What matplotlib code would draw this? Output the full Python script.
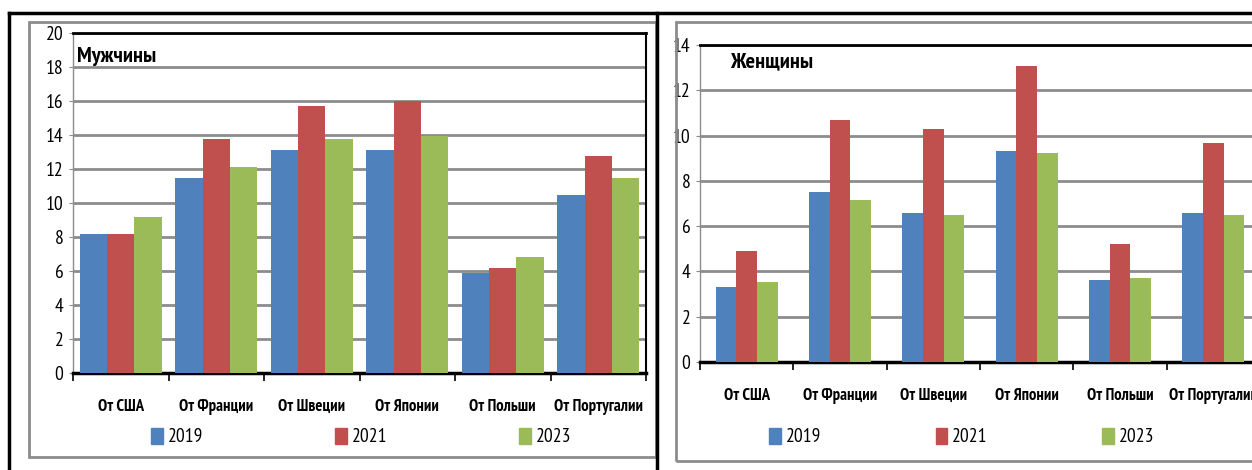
import matplotlib
matplotlib.use('Agg')
import numpy as np
import matplotlib.pyplot as plt
from matplotlib.lines import Line2D
from matplotlib.patches import Rectangle, Patch

plt.rcParams['font.family'] = ['PT Sans Narrow', 'DejaVu Sans']

categories = ['От США', 'От Франции', 'От Швеции', 'От Японии', 'От Польши', 'От Португалии']
years = ['2019', '2021', '2023']
colors = ['#4F81BD', '#C0504D', '#9BBB59']

men_2019 = [8.2, 11.5, 13.1, 13.1, 5.87, 10.5]
men_2021 = [8.15, 13.75, 15.7, 16.0, 6.2, 12.75]
men_2023 = [9.2, 12.1, 13.75, 13.95, 6.85, 11.5]

women_2019 = [3.32, 7.5, 6.57, 9.32, 3.61, 6.56]
women_2021 = [4.89, 10.67, 10.3, 13.07, 5.2, 9.68]
women_2023 = [3.52, 7.17, 6.48, 9.23, 3.7, 6.48]

W, H = 1252, 470
fig = plt.figure(figsize=(W / 100, H / 100), dpi=100)


def fx(px):
    return px / W


def fy(py):
    return 1 - py / H


# frames
tf = fig.transFigure
fig.add_artist(Rectangle((fx(29), fy(457)), fx(656 - 29), fy(22) - fy(457),
                         transform=tf, fill=False, ec='#8c8c8c', lw=2))
fig.add_artist(Rectangle((fx(676), fy(461)), fx(700), fy(22) - fy(461),
                         transform=tf, fill=False, ec='#8c8c8c', lw=2))
fig.add_artist(Line2D([fx(9), 1], [fy(13), fy(13)], transform=tf, color='black', lw=2.5))
fig.add_artist(Line2D([fx(9), fx(9)], [0, fy(13)], transform=tf, color='black', lw=2.5))
fig.add_artist(Line2D([fx(657), fx(657)], [0, fy(13)], transform=tf, color='black', lw=2.5))


def panel(rect, s1, s2, s3, ymax, title, title_xy, barw, leg_xy, colsp):
    ax = fig.add_axes(rect)
    x = np.arange(len(categories))
    for i, (vals, c, yr) in enumerate(zip([s1, s2, s3], colors, years)):
        ax.bar(x + (i - 1) * barw, vals, width=barw, color=c, label=yr, zorder=3)
    ax.set_xlim(-0.5, len(categories) - 0.5)
    ax.set_ylim(0, ymax)
    ax.set_yticks(np.arange(0, ymax + 1, 2))
    ax.yaxis.grid(True, color='#8c8c8c', lw=2, zorder=0)
    ax.set_xticks(np.arange(-0.5, len(categories), 1))
    ax.set_xticklabels([])
    ax.set_xticks(x, minor=True)
    ax.set_xticklabels(categories, minor=True, fontsize=12, fontweight='bold')
    ax.tick_params(axis='x', which='major', direction='out', length=6, width=1.2, color='black')
    ax.tick_params(axis='x', which='minor', length=0, pad=19)
    ax.tick_params(axis='y', direction='out', length=3, color='#8c8c8c', labelsize=14, pad=4)
    ax.spines['left'].set_color('#8c8c8c')
    ax.spines['left'].set_linewidth(1)
    ax.spines['bottom'].set_color('black')
    ax.spines['bottom'].set_linewidth(2.5)
    ax.spines['top'].set_color('black')
    ax.spines['top'].set_linewidth(2)
    ax.spines['right'].set_color('black')
    ax.spines['right'].set_linewidth(1.5)
    ax.set_axisbelow(True)
    fig.text(fx(title_xy[0]), fy(title_xy[1]), title, fontsize=16, fontweight='bold',
             ha='left', va='center')
    handles = [Patch(color=c) for c in colors]
    fig.legend(handles, years, loc='center left', bbox_to_anchor=(fx(leg_xy[0]), fy(leg_xy[1])),
               bbox_transform=tf, ncol=3, frameon=False, fontsize=14, borderpad=0,
               borderaxespad=0, handlelength=0.6, handleheight=0.9, handletextpad=0.25,
               columnspacing=colsp)
    return ax


panel([fx(73), fy(373), fx(646 - 73), fy(33) - fy(373)], men_2019, men_2021, men_2023,
      20, 'Мужчины', (77, 57), 0.285, (151, 437), 6.8)
panel([fx(700), fy(362), fx(1260 - 700), fy(45) - fy(362)], women_2019, women_2021, women_2023,
      14, 'Женщины', (730, 62), 0.222, (769, 437), 5.9)

fig.savefig('out.png', dpi=100)
